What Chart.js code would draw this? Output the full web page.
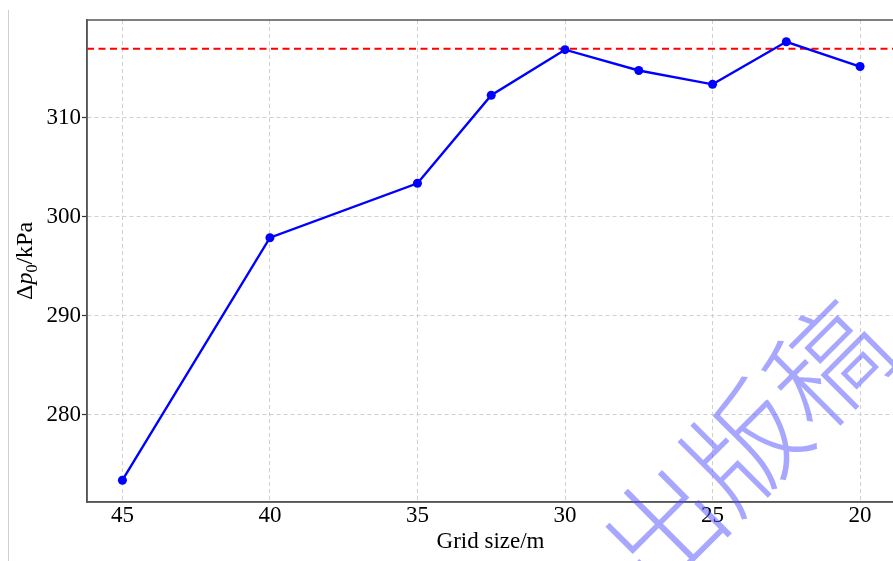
<!DOCTYPE html>
<html>
<head>
<meta charset="utf-8">
<script src="https://cdn.jsdelivr.net/npm/chart.js@4/dist/chart.umd.min.js"></script>
<style>
    html, body { margin: 0; padding: 0; background: #fff; overflow: hidden; }
    #wrap { width: 900px; height: 561px; }
</style>
</head>
<body>
<div id="wrap"><canvas id="gridChart" width="900" height="561"></canvas></div>
<script>
// Grid independence data
const gridSizes = [45, 40, 35, 32.5, 30, 27.5, 25, 22.5, 20];
const pressureDrop = [273.4, 297.9, 303.4, 312.3, 316.9, 314.8, 313.4, 317.7, 315.2];
const referenceLevel = 317.0;
const xTicks = [45, 40, 35, 30, 25, 20];
const yTicks = [280, 290, 300, 310];
const watermarkText = '出版稿';

const serif = '"Liberation Serif", "DejaVu Serif", serif';

// frame, reference line, axis label and watermark
const extras = {
    id: 'extras',
    beforeDatasetsDraw(chart) {
        const { ctx, chartArea: a, scales } = chart;
        const y = scales.y.getPixelForValue(referenceLevel);
        ctx.save();
        ctx.strokeStyle = '#ff0000';
        ctx.lineWidth = 2;
        ctx.setLineDash([7, 4.5]);
        ctx.beginPath();
        ctx.moveTo(a.left, y);
        ctx.lineTo(a.right, y);
        ctx.stroke();
        ctx.restore();
    },
    afterDraw(chart) {
        const { ctx, chartArea: a } = chart;
        ctx.save();
        // frame
        ctx.setLineDash([]);
        ctx.strokeStyle = '#555';
        ctx.lineWidth = 1.5;
        ctx.strokeRect(a.left, a.top, a.right - a.left, a.bottom - a.top);

        // left page edge
        ctx.strokeStyle = '#cfcfcf';
        ctx.lineWidth = 1;
        ctx.beginPath();
        ctx.moveTo(8.5, 10);
        ctx.lineTo(8.5, 561);
        ctx.stroke();

        // y axis label: Δp0/kPa
        ctx.translate(32, 261);
        ctx.rotate(-Math.PI / 2);
        ctx.fillStyle = '#000';
        ctx.textBaseline = 'alphabetic';
        const parts = [
            { t: 'Δ', f: '24px ' + serif, dy: 0 },
            { t: 'p', f: 'italic 24px ' + serif, dy: 0 },
            { t: '0', f: '16px ' + serif, dy: 5 },
            { t: '/kPa', f: '24px ' + serif, dy: 0 }
        ];
        let total = 0;
        parts.forEach(p => { ctx.font = p.f; p.w = ctx.measureText(p.t).width; total += p.w; });
        let x = -total / 2;
        parts.forEach(p => { ctx.font = p.f; ctx.fillText(p.t, x, p.dy); x += p.w; });
        ctx.restore();

        // watermark
        ctx.save();
        ctx.translate(745, 446);
        ctx.rotate(-Math.PI / 4);
        ctx.font = '300 116px "Noto Sans CJK SC"';
        ctx.textAlign = 'center';
        ctx.textBaseline = 'middle';
        ctx.fillStyle = 'rgba(80, 80, 255, 0.5)';
        ctx.fillText(watermarkText, 0, 0);
        ctx.restore();
    }
};

new Chart(document.getElementById('gridChart'), {
    type: 'line',
    data: {
        datasets: [{
            data: gridSizes.map((g, i) => ({ x: g, y: pressureDrop[i] })),
            borderColor: '#0000ff',
            backgroundColor: '#0000ff',
            borderWidth: 2.4,
            pointRadius: 4.5,
            pointBorderWidth: 0,
            tension: 0,
            fill: false
        }]
    },
    options: {
        responsive: false,
        animation: false,
        layout: { padding: { top: 20, right: 6, left: 0, bottom: 0 } },
        plugins: {
            legend: { display: false },
            tooltip: { enabled: false }
        },
        scales: {
            x: {
                type: 'linear',
                reverse: true,
                min: 18.85,
                max: 46.2,
                afterFit: s => { s.height = 59; },
                afterBuildTicks: s => { s.ticks = xTicks.map(v => ({ value: v })); },
                border: { color: '#555', width: 1.5, dash: [4, 3] },
                grid: { color: '#d0d0d0', drawTicks: false },
                ticks: { color: '#000', padding: 0, font: { family: serif, size: 23 } },
                title: {
                    display: true,
                    text: 'Grid size/m',
                    color: '#000',
                    font: { family: serif, size: 23 },
                    padding: { top: 0, bottom: 5 }
                }
            },
            y: {
                min: 271.2,
                max: 319.9,
                afterFit: s => { s.width = 87; },
                afterBuildTicks: s => { s.ticks = yTicks.map(v => ({ value: v })); },
                border: { color: '#555', width: 1.5, dash: [4, 3] },
                grid: {
                    color: '#d0d0d0',
                    tickLength: 5, tickColor: '#333', tickBorderDash: [], tickWidth: 1.2
                },
                ticks: { color: '#000', padding: 1, font: { family: serif, size: 23 } }
            }
        }
    },
    plugins: [extras]
});
</script>
</body>
</html>
